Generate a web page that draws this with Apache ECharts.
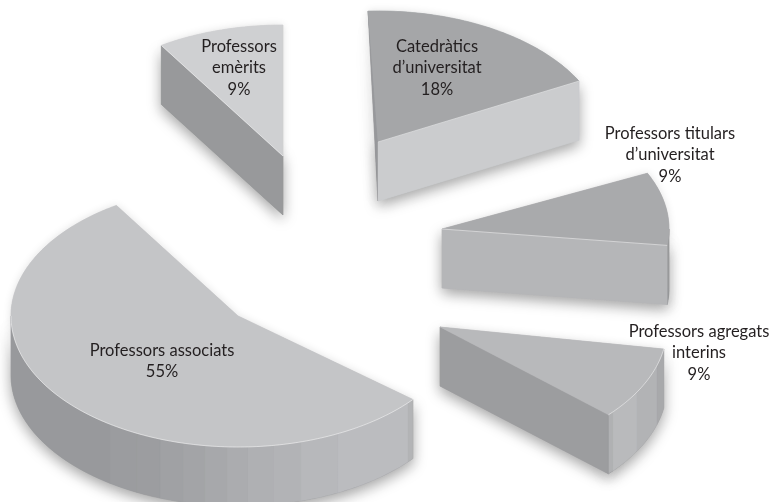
<!DOCTYPE html>
<html><head><meta charset="utf-8">
<style>html,body{margin:0;padding:0;background:#fff}#c{width:773px;height:502px}</style>
<script src="https://cdn.jsdelivr.net/npm/echarts@6/dist/echarts.min.js"></script>
</head><body><div id="c"></div>
<script>
var categories = ['Professors associats','Professors\nemèrits','Catedràtics\nd’universitat','Professors titulars\nd’universitat','Professors agregats\ninterins'];
var shares = [55, 9, 18, 9, 9];

// drawing settings (explosion offsets, projection, shading)
var START = 39.6, RX = 227, RY = 131, DEPTH = 59;
var centres = [[238,316],[283,156],[378,142],[442,229],[440,327]];
var rotate = [0,0,-2.5,0,2.5];
var labelAt = [[162,361],[239,68],[437,68],[670,155],[699,353]];
var topCol = ['#c4c5c7','#cfd0d2','#a5a6a8','#a9aaac','#b8b9bb'];
var startCol = [null,'#98999b','#97989b',null,null];
var endCol = [null,null,'#cbccce','#b5b6b8','#9c9d9f'];
var bands = [
  [[180,'#98999c'],[124.3,'#9b9c9f'],[116.4,'#9c9da0'],[110,'#a0a1a4'],[104,'#a3a4a7'],[98.4,'#a7a8ab'],[92.8,'#abacaf'],[87.5,'#afb0b3'],[81,'#b2b3b6'],[74,'#b7b8bb'],[63.9,'#bbbcbf'],[41.5,'#b3b4b6']],
  [], [], [[367.2,'#98999b']],
  [[42.1,'#b0b1b3'],[40.4,'#b9babc'],[29.8,'#b2b3b5'],[17,'#a8a9ab']]
];
var wallFloor = [39.6, 0, 0, 360, 9.7];
var CAST = {shadowBlur: 14, shadowColor: 'rgba(0,0,0,0.36)', shadowOffsetY: 5};

function pt(c, deg, dz) {
  var r = deg * Math.PI / 180;
  return [c[0] + RX * Math.cos(r), c[1] + RY * Math.sin(r) + (dz || 0)];
}
function arc(c, a, b, dz) {
  var out = [], n = Math.max(2, Math.ceil(Math.abs(b - a)));
  for (var k = 0; k <= n; k++) out.push(pt(c, a + (b - a) * k / n, dz));
  return out;
}
function poly(points, fill, extra) {
  var st = {fill: fill, stroke: fill, lineWidth: 0.4};
  for (var k in (extra || {})) st[k] = extra[k];
  return {type: 'polygon', silent: true, shape: {points: points}, style: st};
}
function renderItem(params, api) {
  var i = params.dataIndex, value = api.value(0), before = 0;
  for (var j = 0; j < i; j++) before += shares[j];
  var a = START + before * 3.6 + rotate[i], b = a + value * 3.6, c = centres[i];
  if (a >= 360) { a -= 360; b -= 360; }
  var top = [c].concat(arc(c, a, b, 0));
  var ps = pt(c, a), pe = pt(c, b), lift = [c[0], c[1] + DEPTH];
  var startFace = startCol[i] ? (i === 2 ? [ps, c, lift] : [ps, c, lift, [ps[0], ps[1] + DEPTH]]) : null;
  var endFace = endCol[i] ? [c, pe, [pe[0], pe[1] + DEPTH], lift] : null;
  var bd = bands[i], kids = [];
  // soft shadow casters: the visible faces, once each
  if (bd.length) {
    var hiAll = Math.min(bd[0][0], b);
    kids.push(poly(arc(c, wallFloor[i], hiAll, 0).concat(arc(c, hiAll, wallFloor[i], DEPTH)), '#999a9c', CAST));
  }
  if (startFace) kids.push(poly(startFace, startCol[i], CAST));
  if (endFace) kids.push(poly(endFace, endCol[i], CAST));
  kids.push(poly(top, topCol[i], {shadowBlur: 8, shadowColor: 'rgba(0,0,0,0.12)'}));
  // curved outer wall, in vertical bands
  for (var q = 0; q < bd.length; q++) {
    var hi = Math.min(bd[q][0], b), lo = q + 1 < bd.length ? bd[q + 1][0] : wallFloor[i];
    if (hi > lo) kids.push(poly(arc(c, lo, hi, 0).concat(arc(c, hi, lo, DEPTH)), bd[q][1]));
  }
  // cut faces and top
  if (startFace) kids.push(poly(startFace, startCol[i]));
  if (endFace) kids.push(poly(endFace, endCol[i]));
  kids.push(poly(top, topCol[i]));
  // light seam where the top meets the walls
  var seam = [];
  if (i === 0) seam = arc(c, a, 180, 0);
  else if (i === 4) seam = arc(c, a, b, 0);
  else if (endCol[i]) seam = [c, pe];
  else if (startCol[i]) seam = [ps, c];
  if (seam.length) kids.push({type: 'polyline', silent: true, shape: {points: seam}, style: {fill: null, stroke: 'rgba(255,255,255,0.6)', lineWidth: 0.8}});
  kids.push({type: 'text', silent: true, x: labelAt[i][0], y: labelAt[i][1], style: {
    text: categories[i] + '\n' + value + '%', align: 'center', verticalAlign: 'middle',
    fill: '#231f20', font: '16.5px Lato', lineHeight: 21.5}});
  return {type: 'group', children: kids};
}
var chart = echarts.init(document.getElementById('c'), null, {renderer: 'canvas', width: 773, height: 502});
chart.setOption({
  animation: false,
  backgroundColor: '#ffffff',
  series: [{type: 'custom', coordinateSystem: 'none', clip: false, renderItem: renderItem,
    data: shares.map(function (v) { return [v]; })}]
});
</script></body></html>
